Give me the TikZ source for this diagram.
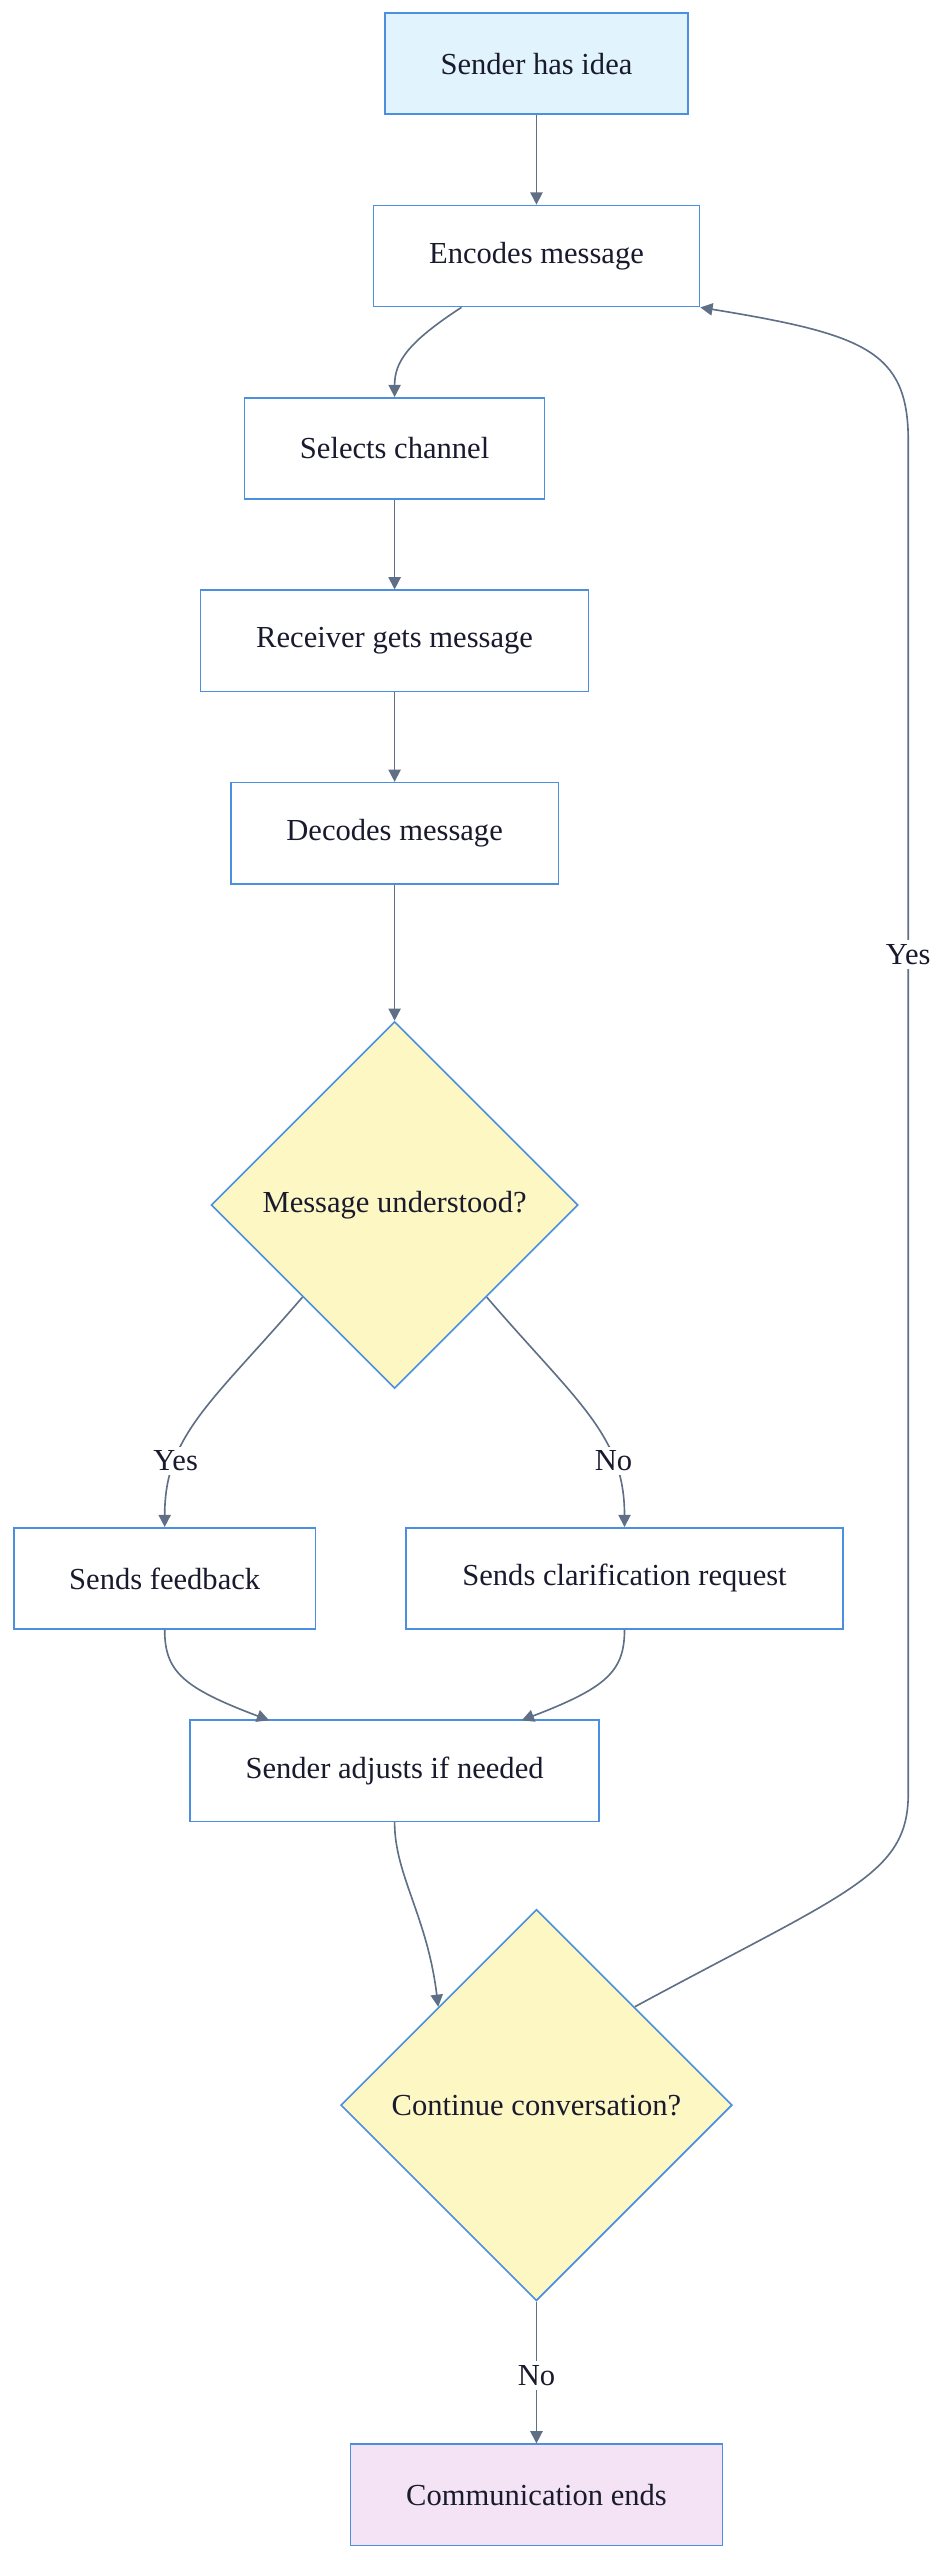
\documentclass[tikz,border=0pt]{standalone}
\usepackage{fontspec}
\setmainfont{Liberation Serif}
\usetikzlibrary{shapes.geometric,arrows.meta}
\definecolor{bord}{HTML}{4A8FE0}
\definecolor{arr}{HTML}{5F6F86}
\definecolor{txt}{HTML}{1A1A2E}
\definecolor{blue1}{HTML}{E1F3FD}
\definecolor{yel}{HTML}{FDF7C3}
\definecolor{pur}{HTML}{F3E3F5}
\begin{document}
\begin{tikzpicture}[x=0.8pt,y=-0.8pt,
  box/.style={draw=bord,line width=0.8pt,fill=white,text=txt,minimum height=49.6pt,inner sep=0pt,font=\fontsize{15}{17}\selectfont},
  dia/.style={diamond,draw=bord,line width=0.8pt,fill=yel,text=txt,aspect=1,inner sep=0pt,font=\fontsize{15}{17}\selectfont},
  lab/.style={fill=white,text=txt,inner sep=2pt,font=\fontsize{15}{17}\selectfont},
  con/.style={draw=arr,line width=0.8pt,-{Triangle[length=6pt,width=6pt]}}]
\useasboundingbox (0,0) rectangle (581,1570);
\node[box,fill=blue1,minimum width=148.8pt] (idea) at (329,39) {Sender has idea};
\node[box,minimum width=160pt] (enc) at (329,157) {Encodes message};
\node[box,minimum width=147.2pt] (sel) at (242,275) {Selects channel};
\node[box,minimum width=190.4pt] (rec) at (242,393) {Receiver gets message};
\node[box,minimum width=160.8pt] (dec) at (242,511) {Decodes message};
\node[dia,minimum width=180pt,minimum height=180pt] (d1) at (242,739) {Message understood?};
\node[box,minimum width=148pt] (fb) at (101,968) {Sends feedback};
\node[box,minimum width=214.4pt] (cl) at (383,968) {Sends clarification request};
\node[box,minimum width=200.8pt] (adj) at (242,1086) {Sender adjusts if needed};
\node[dia,minimum width=192pt,minimum height=192pt] (d2) at (329,1291) {Continue conversation?};
\node[box,fill=pur,minimum width=182.4pt] (end) at (329,1530) {Communication ends};

\draw[con] (idea) -- (enc);
\draw[con] (enc.south -| 283,0) .. controls (250,210) and (242,222) .. (sel.north);
\draw[con] (sel) -- (rec);
\draw[con] (rec) -- (dec);
\draw[con] (dec) -- (d1);
\draw[con] (d1.225) .. controls (130,860) and (101,880) .. node[lab,pos=0.72]{Yes} (fb.north);
\draw[con] (d1.315) .. controls (354,860) and (383,880) .. node[lab,pos=0.72]{No} (cl.north);
\draw[con] (fb.south) .. controls (101,1025) and (112,1035) .. (165,1055);
\draw[con] (cl.south) .. controls (383,1025) and (372,1035) .. (320,1055);
\draw[con] (adj.south) .. controls (242,1150) and (262,1175) .. (d2.135);
\draw[con] (d2.south) -- node[lab,pos=0.52]{No} (end.north);
\draw[con] (d2.45) .. controls (520,1160) and (557,1150) .. (557,1100) -- node[lab,pos=0.62]{Yes} (557,270) .. controls (557,215) and (530,205) .. (enc.south east);
\end{tikzpicture}
\end{document}
